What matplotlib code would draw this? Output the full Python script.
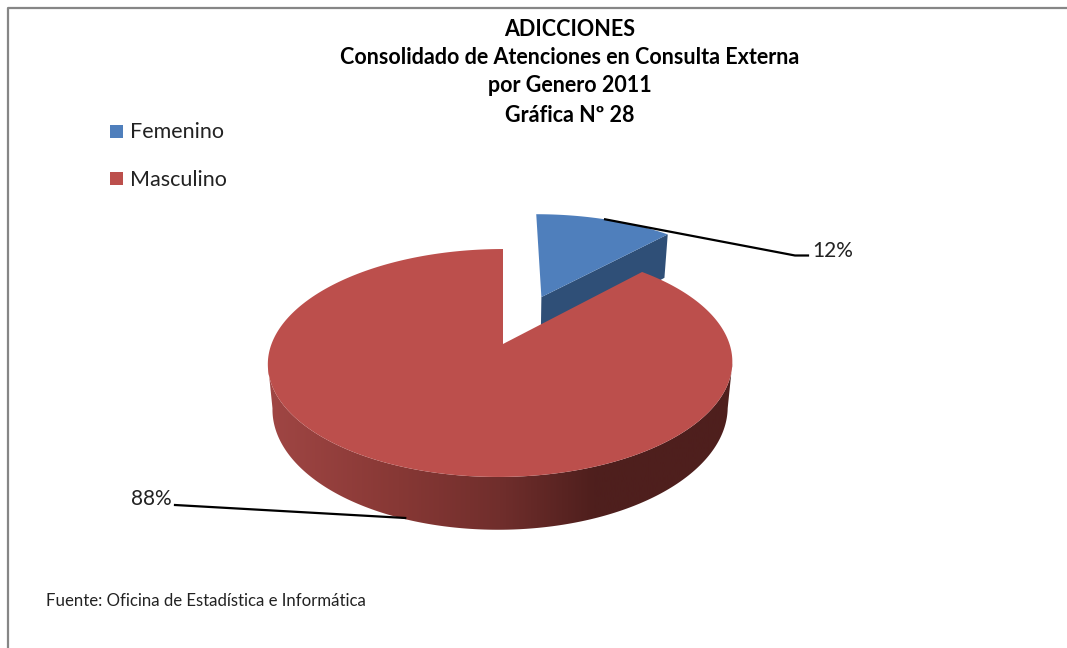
#!/usr/bin/env python3
"""Build the Adicciones consulta externa 3D pie by gender."""

from __future__ import annotations

import matplotlib

matplotlib.use("Agg")

import matplotlib.pyplot as plt
import numpy as np
from matplotlib.colors import LinearSegmentedColormap
from matplotlib.patches import Polygon, Rectangle

CATEGORIES = ["Femenino", "Masculino"]
VALUES = [12, 88]
COLORS = ["#4f7fbc", "#bc4f4c"]
TITLE_LINES = [
    "ADICCIONES",
    "Consolidado de Atenciones en Consulta Externa",
    "por Genero 2011",
    "Gráfica Nº 28",
]
SOURCE = "Fuente: Oficina de Estadística e Informática"

W, H = 1067, 648
CX, CY = 503.0, 344.0
RX, RY = 229.0, 110.8
PERSP = 1.0 / 6.0
DEPTH = 44.0
BLUE_DEPTH = 52.0
EXPLODE = 0.49
LEAN = 2.5
NARROW = 0.98

plt.rcParams["font.family"] = ["Lato", "DejaVu Sans"]


def project(u, v, depth=0.0):
    # plane coords of the unit disc to pixels, with a bit of perspective
    scale = 1.0 / (1.0 + PERSP * np.asarray(v))
    x = CX + RX * np.asarray(u) * scale
    y = CY - RY * np.asarray(v) * scale + depth * scale
    if depth:
        x = CX + NARROW * (x - CX)
    return x, y


def rim(theta, offset=(0.0, 0.0), depth=0.0):
    x, y = project(np.sin(theta) + offset[0], np.cos(theta) + offset[1], depth)
    # the real chart leans slightly to the left towards the viewer
    return x + LEAN * (np.cos(theta) - 1.0), y


def main() -> None:
    fig = plt.figure(figsize=(W / 100, H / 100), dpi=100, facecolor="white")
    ax = fig.add_axes([0, 0, 1, 1])
    ax.set_xlim(0, W)
    ax.set_ylim(H, 0)
    ax.axis("off")

    # chart frame, only left and top edges are inside the screenshot
    ax.plot([7.5, 7.5, W], [H, 8, 8], color="#868686", linewidth=1.6)

    fractions = np.array(VALUES, dtype=float) / sum(VALUES)
    split = 2 * np.pi * fractions[0]
    mid_blue = split / 2
    mid_red = split + np.pi * fractions[1]
    offset = (EXPLODE * np.sin(mid_blue), EXPLODE * np.cos(mid_blue))

    # blue slice, pulled out of the pie
    arc = np.linspace(0, split, 60)
    top_x, top_y = rim(arc, offset)
    ax_x, ax_y = project(offset[0], offset[1])
    low_ax_x, low_ax_y = project(offset[0], offset[1], BLUE_DEPTH)
    end_x, end_y = rim(np.array([split]), offset, BLUE_DEPTH)
    ax.add_patch(Polygon(
        [(ax_x, ax_y), (top_x[-1], top_y[-1]), (end_x[0], end_y[0]), (low_ax_x, low_ax_y)],
        closed=True, facecolor="#2f4f77", edgecolor="none", zorder=2,
    ))
    ax.add_patch(Polygon(
        [(ax_x, ax_y)] + list(zip(top_x, top_y)),
        closed=True, facecolor=COLORS[0], edgecolor="none", zorder=3,
    ))

    # red side wall with a horizontal gradient, clipped to the silhouette
    side = np.linspace(np.arccos(-PERSP), 2 * np.pi - np.arccos(-PERSP), 200)
    up_x, up_y = rim(side)
    lo_x, lo_y = rim(side, depth=DEPTH)
    wall = Polygon(
        list(zip(up_x, up_y)) + list(zip(lo_x[::-1], lo_y[::-1])),
        closed=True, facecolor="none", edgecolor="none", transform=ax.transData,
    )
    ax.add_patch(wall)
    cmap = LinearSegmentedColormap.from_list(
        "wall",
        [(0.0, "#a04644"), (0.28, "#873835"), (0.5, "#702e2c"), (0.7, "#4f1f1d"), (1.0, "#4e1f1d")],
    )
    img = ax.imshow(
        np.linspace(0, 1, 256)[None, :], cmap=cmap, aspect="auto",
        extent=(up_x.min(), up_x.max(), H, 0), zorder=4,
    )
    img.set_clip_path(wall)
    ax.set_xlim(0, W)
    ax.set_ylim(H, 0)

    # red top face
    arc = np.linspace(split, 2 * np.pi, 300)
    top_x, top_y = rim(arc)
    ax.add_patch(Polygon(
        [(CX, CY)] + list(zip(top_x, top_y)),
        closed=True, facecolor=COLORS[1], edgecolor="none", zorder=5,
    ))

    # leader lines start on the slice rim at the mid angle
    bx, by = project(np.sin(mid_blue) + offset[0], np.cos(mid_blue) + offset[1])
    ax.plot([bx, 795, 808], [by, 255.5, 255.5], color="black", linewidth=1.6, zorder=6)
    rx, ry = project(np.sin(mid_red), np.cos(mid_red), DEPTH)
    ax.plot([rx, 175], [ry, 505], color="black", linewidth=1.6, zorder=6)
    ax.text(812, 251, f"{VALUES[0]}%", fontsize=15, color="#222222", va="center", ha="left")
    ax.text(172, 499, f"{VALUES[1]}%", fontsize=15, color="#222222", va="center", ha="right")

    # title
    for line, y in zip(TITLE_LINES, [29, 57, 86, 115]):
        ax.text(570, y, line, fontsize=15.5, fontweight="bold", color="black", ha="center", va="center")

    # legend
    for name, color, y in zip(CATEGORIES, COLORS, [131, 178]):
        ax.add_patch(Rectangle((110, y - 6), 13, 13, facecolor=color, edgecolor="none"))
        ax.text(130, y + 1.5, name, fontsize=15.5, color="#222222", va="center", ha="left")

    ax.text(46, 601, SOURCE, fontsize=12.05, color="#222222", va="center", ha="left")

    fig.savefig("out.png", dpi=100, facecolor="white")
    plt.close(fig)


if __name__ == "__main__":
    main()
